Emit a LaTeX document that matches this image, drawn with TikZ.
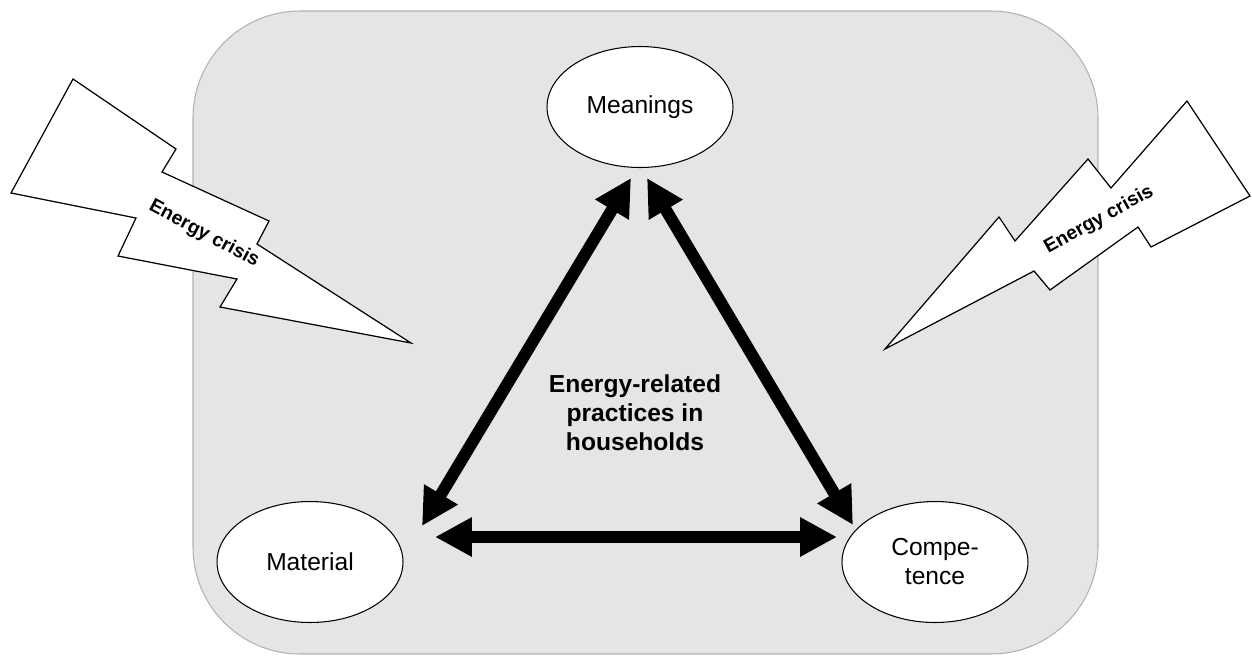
\documentclass[tikz,border=0pt]{standalone}
\usepackage{fontspec}
\setmainfont{Liberation Sans}
\usetikzlibrary{shapes,arrows.meta,calc}

\begin{document}
\begin{tikzpicture}[
    x=0.02cm, y=-0.02cm,
    panel/.style={draw=gray!60, fill=gray!20, line width=0.6pt, rounded corners=2.14cm},
    element/.style={ellipse, draw, line width=0.6pt, fill=white, minimum width=3.72cm, minimum height=2.42cm, inner sep=0pt, align=center, font=\fontsize{14}{16.5}\selectfont},
    bolt/.style={draw, fill=white, line width=0.7pt, line join=miter},
    boltlabel/.style={font=\bfseries\fontsize{11}{13}\selectfont},
    practice/.style={align=center, font=\bfseries\fontsize{14}{16.5}\selectfont},
    link/.style={{Triangle[length=21pt,width=21pt]}-{Triangle[length=21pt,width=21pt]}, line width=6.8pt}
]
\useasboundingbox (0,0) rectangle (1252,657);

% Grey panel
\draw[panel] (193,11) rectangle (1098,654);

% Lightning bolts (drawn over the panel edge)
\draw[bolt] (73,79) -- (176,149) -- (162,172) -- (269,221) -- (257,244) -- (411,343)
  -- (220,307) -- (237,279) -- (118,256) -- (136,218) -- (11,193) -- cycle;
\node[boltlabel, rotate=-28] (crisisL) at (204,234) {Energy crisis};

\draw[bolt] (1187,101) -- (1250,196) -- (1151,247) -- (1138,227) -- (1050,290) -- (1034,271)
  -- (885,349) -- (999,217) -- (1015,241) -- (1088,159) -- (1111,188) -- cycle;
\node[boltlabel, rotate=29] (crisisR) at (1099,220) {Energy crisis};

% The three elements
\node[element] (meanings) at (640,107) {Meanings};
\node[element] (material) at (310,562) {Material};
\node[element] (competence) at (935,562) {Compe-\\tence};

% Practice in the middle
\node[practice] (practice) at (635,413) {Energy-related\\practices in\\households};

% Arrow ends
\coordinate (meanL) at ($(meanings.south)+(-9,10)$);
\coordinate (meanR) at ($(meanings.south)+(7,10)$);
\coordinate (matTop) at ($(material)+(112,-36)$);
\coordinate (matRight) at ($(material)+(125,-25)$);
\coordinate (compTop) at ($(competence)+(-82,-37)$);
\coordinate (compLeft) at ($(competence)+(-98,-25)$);

% Links between elements
\draw[link] (matTop) -- (meanL);
\draw[link] (meanR) -- (compTop);
\draw[link] (matRight) -- (compLeft);

\end{tikzpicture}
\end{document}
